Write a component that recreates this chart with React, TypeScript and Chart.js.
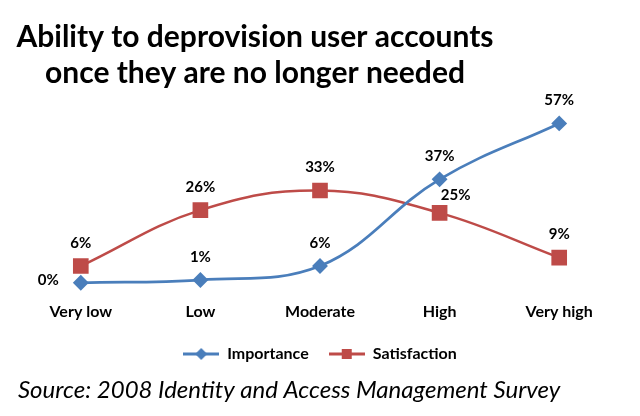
import React, { useEffect, useRef } from "react";
import { Chart, registerables } from "chart.js";

Chart.register(...registerables);

const categories = ["Very low", "Low", "Moderate", "High", "Very high"];
const importance = [0, 1, 6, 37, 57];
const satisfaction = [6, 26, 33, 25, 9];
const titleLines = ["Ability to deprovision user accounts", "once they are no longer needed"];
const sourceText = "Source: 2008 Identity and Access Management Survey";
const importanceLabelPlacement = ["left", "top", "top", "top", "top"];
const satisfactionLabelPlacement = ["top", "top", "top", "topRight", "top"];

const BLUE = "#4A7EBB";
const RED = "#BE4B48";
const FONT = "Lato, 'Open Sans', sans-serif";

function makeLegendIcon(color: string, marker: "diamond" | "square") {
  const c = document.createElement("canvas");
  c.width = 36;
  c.height = 14;
  const ctx = c.getContext("2d")!;
  ctx.strokeStyle = color;
  ctx.lineWidth = 3;
  ctx.beginPath();
  ctx.moveTo(0, 7);
  ctx.lineTo(36, 7);
  ctx.stroke();
  ctx.fillStyle = color;
  if (marker === "diamond") {
    ctx.beginPath();
    ctx.moveTo(18, 1);
    ctx.lineTo(24, 7);
    ctx.lineTo(18, 13);
    ctx.lineTo(12, 7);
    ctx.closePath();
    ctx.fill();
  } else {
    ctx.fillRect(13, 2, 10, 10);
  }
  return c;
}

const valueLabelPlugin = {
  id: "valueLabels",
  afterDatasetsDraw(chart: any) {
    const ctx = chart.ctx;
    const placements = [importanceLabelPlacement, satisfactionLabelPlacement];
    ctx.save();
    ctx.font = `bold 15px ${FONT}`;
    ctx.fillStyle = "#000";
    ctx.textBaseline = "middle";
    chart.data.datasets.forEach((ds: any, di: number) => {
      const meta = chart.getDatasetMeta(di);
      meta.data.forEach((pt: any, i: number) => {
        const text = ds.data[i] + "%";
        const place = placements[di][i];
        let x = pt.x;
        let y = pt.y;
        ctx.textAlign = "center";
        if (place === "left") {
          ctx.textAlign = "right";
          x -= 22;
          y -= 3;
        } else if (place === "topRight") {
          x += 16;
          y -= 18;
        } else {
          y -= 23;
        }
        ctx.fillText(text, x, y);
      });
    });
    ctx.restore();
  },
};

const textPlugin = {
  id: "textBlocks",
  afterDraw(chart: any) {
    const ctx = chart.ctx;
    ctx.save();
    ctx.fillStyle = "#000";
    ctx.textBaseline = "middle";
    ctx.textAlign = "center";
    ctx.font = `bold 30px ${FONT}`;
    ctx.fillText(titleLines[0], 255, 37);
    ctx.fillText(titleLines[1], 255, 73);
    ctx.textAlign = "left";
    ctx.font = `italic 24px ${FONT}`;
    ctx.fillText(sourceText, 18, 390);
    ctx.restore();
  },
};

export default function App() {
  const ref = useRef<HTMLCanvasElement | null>(null);
  useEffect(() => {
    if (!ref.current) return;
    const chart = new Chart(ref.current, {
      type: "line",
      data: {
        labels: categories,
        datasets: [
          {
            label: "Importance",
            data: importance,
            borderColor: BLUE,
            backgroundColor: BLUE,
            borderWidth: 2.75,
            pointStyle: "rectRot",
            pointRadius: 6,
            pointHoverRadius: 6,
            tension: 0.4,
            clip: false,
          },
          {
            label: "Satisfaction",
            data: satisfaction,
            borderColor: RED,
            backgroundColor: RED,
            borderWidth: 2.5,
            pointStyle: "rect",
            pointRadius: 9.3,
            pointHoverRadius: 9.3,
            tension: 0.4,
            clip: false,
          },
        ],
      },
      options: {
        responsive: false,
        animation: false,
        layout: { padding: { top: 115, left: 21, right: 21, bottom: 44 } },
        scales: {
          x: {
            offset: true,
            grid: { display: false, drawTicks: false },
            border: { display: false },
            ticks: {
              padding: 19,
              color: "#000",
              font: { family: FONT, size: 16, weight: "bold" },
            },
            afterFit(scale: any) {
              scale.height -= 14;
            },
          },
          y: { display: false, min: 0, max: 60 },
        },
        plugins: {
          tooltip: { enabled: false },
          legend: {
            position: "bottom",
            labels: {
              usePointStyle: true,
              pointStyleWidth: 36,
              padding: 20,
              color: "#000",
              font: { family: FONT, size: 16, weight: "bold" },
              generateLabels() {
                return [
                  { text: "Importance", pointStyle: makeLegendIcon(BLUE, "diamond"), fillStyle: BLUE, strokeStyle: BLUE, lineWidth: 0, datasetIndex: 0, hidden: false },
                  { text: "Satisfaction", pointStyle: makeLegendIcon(RED, "square"), fillStyle: RED, strokeStyle: RED, lineWidth: 0, datasetIndex: 1, hidden: false },
                ] as any;
              },
            },
          },
        },
      } as any,
      plugins: [valueLabelPlugin, textPlugin],
    });
    return () => chart.destroy();
  }, []);
  return (
    <div style={{ position: "fixed", left: 0, top: 0, width: 640, height: 416, background: "#fff" }}>
      <canvas ref={ref} width={640} height={416} />
    </div>
  );
}
